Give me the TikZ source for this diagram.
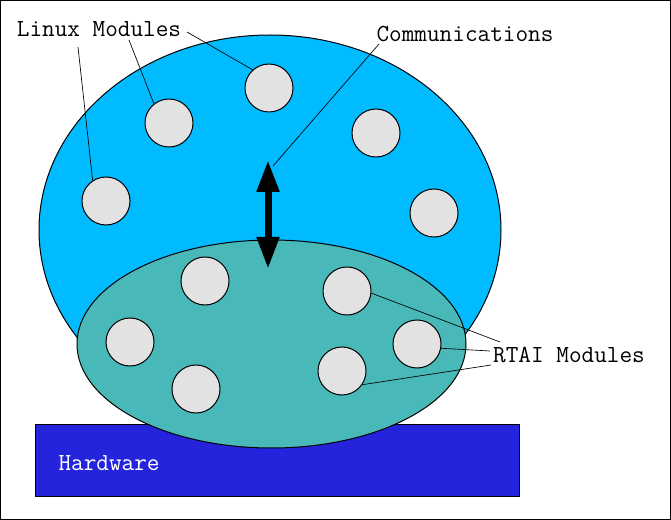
\documentclass[tikz,border=0pt]{standalone}
\usepackage{fontspec}
\usetikzlibrary{arrows.meta}
\definecolor{linuxblue}{RGB}{0,187,255}
\definecolor{rtaiteal}{RGB}{72,184,184}
\definecolor{hwblue}{RGB}{36,36,220}
\definecolor{modgray}{RGB}{226,226,226}
\begin{document}
\begin{tikzpicture}[x=0.75pt,y=-0.75pt,line width=0.75pt,
  module/.style={circle,draw,fill=modgray,inner sep=0pt,minimum size=36pt},
  lbl/.style={font=\ttfamily\fontsize{18.4}{21}\selectfont,inner sep=0pt},
  leader/.style={line width=0.5pt},
  tip/.style={line width=5.25pt,{Triangle[length=24pt,width=16pt]}-{Triangle[length=24pt,width=16pt]}}]
\useasboundingbox (0,0) rectangle (671,520);
\draw (0.5,0.5) rectangle (670.5,519.5); % Cadre

\draw [fill=linuxblue] (270,230) ellipse [x radius=173.25pt, y radius=146.25pt];
\draw [fill=hwblue] (35,424) rectangle (519,496);
\draw [fill=rtaiteal] (271.5,344) ellipse [x radius=145.875pt, y radius=78pt];

\node [lbl, anchor=west, text=white] (hw) at (58,463) {Hardware};

% Modules Linux
\node [module] (lm1) at (269,88) {};
\node [module] (lm2) at (169,123) {};
\node [module] (lm3) at (106,201) {};
\node [module] (lm4) at (376,133) {};
\node [module] (lm5) at (434,213) {};
% Modules RTAI
\node [module] (rm1) at (205,281) {};
\node [module] (rm2) at (347,291) {};
\node [module] (rm3) at (130,342) {};
\node [module] (rm4) at (417,344) {};
\node [module] (rm5) at (196,389) {};
\node [module] (rm6) at (342,371) {};

\coordinate (comtop) at (268,160);
\coordinate (combot) at (268,269);
\draw [tip] (combot) -- (comtop);

\node [lbl] (linux) at (99,29) {Linux Modules};
\node [lbl] (comm) at (465,34) {Communications};
\node [lbl] (rtai) at (569,355) {RTAI Modules};

\coordinate (lk1) at (78,47);
\coordinate (lk2) at (129,40);
\coordinate (lk3) at (187,32);
\draw [leader] (lk1) -- (lm3.123);
\draw [leader] (lk2) -- (lm2.128);
\draw [leader] (lk3) -- (lm1.132);

\coordinate (ck) at (379,44);
\coordinate (ca) at (273,166);
\draw [leader] (ck) -- (ca);

\coordinate (rk1) at (500,342);
\coordinate (rk2) at (490,351);
\coordinate (rk3) at (491,365);
\draw [leader] (rk1) -- (rm2.-5);
\draw [leader] (rk2) -- (rm4.-10);
\draw [leader] (rk3) -- (rm6.-34);
\end{tikzpicture}
\end{document}
